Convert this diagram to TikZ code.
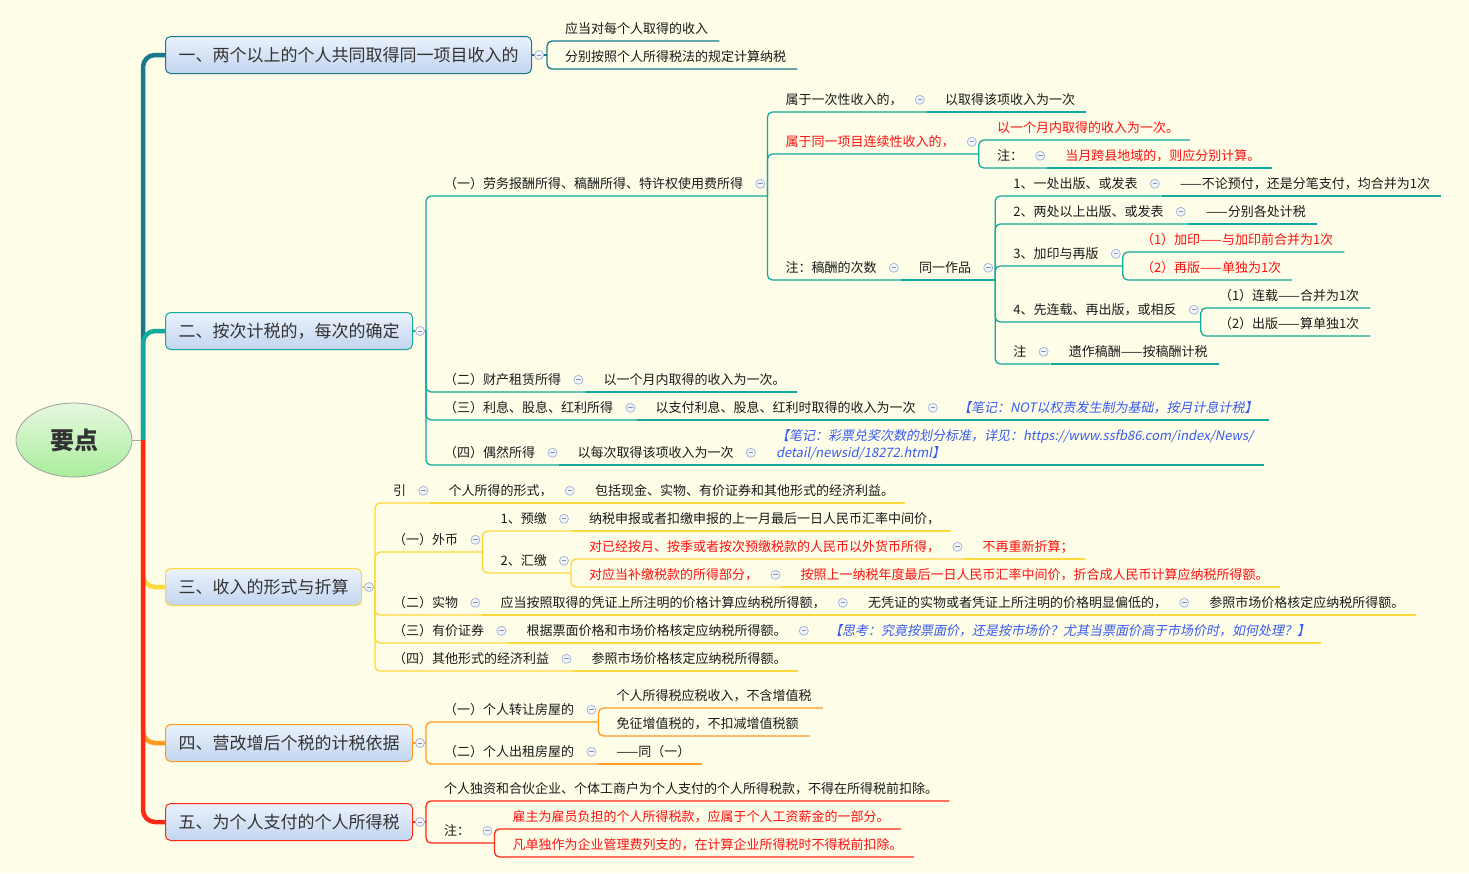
\documentclass[tikz,border=0pt]{standalone}
\usepackage{fontspec}
\setmainfont{Noto Sans CJK SC}
\newfontfamily\notefont{Noto Sans CJK SC}[FakeSlant=0.2]
\usetikzlibrary{shapes.geometric}
\definecolor{Paper}{HTML}{FDFDE8}
\definecolor{Ink}{HTML}{1A1A1A}
\definecolor{BoxInk}{HTML}{333333}
\definecolor{Hot}{HTML}{FF1010}
\definecolor{Note}{HTML}{3A5BEF}
\definecolor{BrOne}{HTML}{17798B}
\definecolor{BrTwo}{HTML}{14A99A}
\definecolor{BrThree}{HTML}{FFD83A}
\definecolor{BrFour}{HTML}{FF9B1E}
\definecolor{BrFive}{HTML}{FF2A14}
\definecolor{FoldEdge}{HTML}{A9B7D8}
\definecolor{FoldFill}{HTML}{F1F4FB}
\definecolor{BoxTop}{HTML}{EBF2FC}
\definecolor{BoxBot}{HTML}{C2D5EF}
\definecolor{RootTop}{HTML}{E6F8DE}
\definecolor{RootBot}{HTML}{A9EE9C}

\tikzset{
  txt/.style={anchor=south west,inner xsep=0pt,inner ysep=4pt,text height=10pt,text depth=3pt,
    font=\fontsize{13}{16}\selectfont,text=Ink,execute at begin node={\hspace*{18pt}}},
  leaf/.style={txt,execute at end node={\hspace*{11pt}}},
  stem/.style={txt,execute at end node={\hspace*{24pt}}},
  hot/.style={text=Hot},
  note/.style={text=Note,font=\notefont\fontsize{13}{16}\selectfont},
  topic/.style={anchor=west,rounded corners=5pt,line width=1pt,top color=BoxTop,bottom color=BoxBot,
    text=BoxInk,font=\fontsize{17}{20}\selectfont,minimum height=37pt,inner xsep=13pt},
  hub/.style={ellipse,draw=gray!75,line width=0.8pt,top color=RootTop,bottom color=RootBot,
    minimum width=116pt,minimum height=74pt,inner sep=0pt,text=BoxInk,
    font=\fontsize{24}{28}\selectfont\bfseries},
  trunk/.style={line width=4.5pt,rounded corners=12pt},
  link/.style={line width=1.3pt,rounded corners=5pt},
  fold/.style={draw=FoldEdge,fill=FoldFill,line width=0.8pt},
  foldbar/.style={draw=FoldEdge!80!black,line width=0.8pt}
}

\begin{document}
\begin{tikzpicture}[x=1pt,y=-1pt]
\fill[Paper] (0,0) rectangle (1469,873);
\useasboundingbox (0,0) rectangle (1469,873);

% root and main topics
\node[hub] (root) at (74,440) {要点};
\coordinate (hubj) at (143,440);
\node[topic,draw=BrOne] (t1) at (165,55) {一、两个以上的个人共同取得同一项目收入的};
\node[topic,draw=BrTwo] (t2) at (165,331) {二、按次计税的，每次的确定};
\node[topic,draw=BrThree] (t3) at (165,587) {三、收入的形式与折算};
\node[topic,draw=BrFour] (t4) at (165,743) {四、营改增后个税的计税依据};
\node[topic,draw=BrFive] (t5) at (165,822) {五、为个人支付的个人所得税};
\coordinate (j1) at ([xshift=15pt]t1.east);
\coordinate (j2) at ([xshift=13pt]t2.east);
\coordinate (j3) at ([xshift=13pt]t3.east);
\coordinate (j4) at ([xshift=13pt]t4.east);
\coordinate (j5) at ([xshift=13pt]t5.east);

% topic one
\node[leaf] (a1) at (j1 |- 0,41) {应当对每个人取得的收入};
\node[leaf] (a2) at (j1 |- 0,69) {分别按照个人所得税法的规定计算纳税};

% topic two
\node[stem] (b1) at (j2 |- 0,196) {（一）劳务报酬所得、稿酬所得、特许权使用费所得};
\node[stem] (b1a) at (b1.south east |- 0,112) {属于一次性收入的，};
\node[leaf] (b1a1) at (b1a.south east) {以取得该项收入为一次};
\node[stem,hot] (b1b) at (b1.south east |- 0,154) {属于同一项目连续性收入的，};
\node[leaf,hot] (b1b1) at (b1b.south east |- 0,140) {以一个月内取得的收入为一次。};
\node[stem] (b1b2) at (b1b.south east |- 0,168) {注：};
\node[leaf,hot] (b1b2a) at (b1b2.south east) {当月跨县地域的，则应分别计算。};
\node[stem] (b1c) at (b1.south east |- 0,280) {注：稿酬的次数};
\node[stem] (b1c1) at (b1c.south east) {同一作品};
\node[stem] (c1) at (b1c1.south east |- 0,196) {1、一处出版、或发表};
\node[leaf] (c1a) at (c1.south east) {——不论预付，还是分笔支付，均合并为1次};
\node[stem] (c2) at (b1c1.south east |- 0,224) {2、两处以上出版、或发表};
\node[leaf] (c2a) at (c2.south east) {——分别各处计税};
\node[stem] (c3) at (b1c1.south east |- 0,266) {3、加印与再版};
\node[leaf,hot] (c3a) at (c3.south east |- 0,252) {（1）加印——与加印前合并为1次};
\node[leaf,hot] (c3b) at (c3.south east |- 0,280) {（2）再版——单独为1次};
\node[stem] (c4) at (b1c1.south east |- 0,322) {4、先连载、再出版，或相反};
\node[leaf] (c4a) at (c4.south east |- 0,308) {（1）连载——合并为1次};
\node[leaf] (c4b) at (c4.south east |- 0,336) {（2）出版——算单独1次};
\node[stem] (c5) at (b1c1.south east |- 0,364) {注};
\node[leaf] (c5a) at (c5.south east) {遗作稿酬——按稿酬计税};
\node[stem] (b2) at (j2 |- 0,392) {（二）财产租赁所得};
\node[leaf] (b2a) at (b2.south east) {以一个月内取得的收入为一次。};
\node[stem] (b3) at (j2 |- 0,420) {（三）利息、股息、红利所得};
\node[stem] (b3a) at (b3.south east) {以支付利息、股息、红利时取得的收入为一次};
\node[leaf,note] (b3b) at (b3a.south east) {【笔记：NOT以权责发生制为基础，按月计息计税】};
\node[stem] (b4) at (j2 |- 0,465) {（四）偶然所得};
\node[stem] (b4a) at (b4.south east) {以每次取得该项收入为一次};
\node[leaf,note] (b4b) at (b4a.south east) {\vbox{\baselineskip=17pt
  \hbox{【笔记：彩票兑奖次数的划分标准，详见：https://www.ssfb86.com/index/News/}
  \hbox{detail/newsid/18272.html】}}};

% topic three
\node[stem] (d0) at (j3 |- 0,503) {引};
\node[stem] (d0a) at (d0.south east) {个人所得的形式，};
\node[leaf] (d0b) at (d0a.south east) {包括现金、实物、有价证券和其他形式的经济利益。};
\node[stem] (d1) at (j3 |- 0,552) {（一）外币};
\node[stem] (d1a) at (d1.south east |- 0,531) {1、预缴};
\node[leaf] (d1a1) at (d1a.south east) {纳税申报或者扣缴申报的上一月最后一日人民币汇率中间价，};
\node[stem] (d1b) at (d1.south east |- 0,573) {2、汇缴};
\node[stem,hot] (d1b1) at (d1b.south east |- 0,559) {对已经按月、按季或者按次预缴税款的人民币以外货币所得，};
\node[leaf,hot] (d1b1a) at (d1b1.south east) {不再重新折算；};
\node[stem,hot] (d1b2) at (d1b.south east |- 0,587) {对应当补缴税款的所得部分，};
\node[leaf,hot] (d1b2a) at (d1b2.south east) {按照上一纳税年度最后一日人民币汇率中间价，折合成人民币计算应纳税所得额。};
\node[stem] (d2) at (j3 |- 0,615) {（二）实物};
\node[stem] (d2a) at (d2.south east) {应当按照取得的凭证上所注明的价格计算应纳税所得额，};
\node[stem] (d2b) at (d2a.south east) {无凭证的实物或者凭证上所注明的价格明显偏低的，};
\node[leaf] (d2c) at (d2b.south east) {参照市场价格核定应纳税所得额。};
\node[stem] (d3) at (j3 |- 0,643) {（三）有价证券};
\node[stem] (d3a) at (d3.south east) {根据票面价格和市场价格核定应纳税所得额。};
\node[leaf,note] (d3b) at (d3a.south east) {【思考：究竟按票面价，还是按市场价？尤其当票面价高于市场价时，如何处理？】};
\node[stem] (d4) at (j3 |- 0,671) {（四）其他形式的经济利益};
\node[leaf] (d4a) at (d4.south east) {参照市场价格核定应纳税所得额。};

% topic four
\node[stem] (e1) at (j4 |- 0,722) {（一）个人转让房屋的};
\node[leaf] (e1a) at (e1.south east |- 0,708) {个人所得税应税收入，不含增值税};
\node[leaf] (e1b) at (e1.south east |- 0,736) {免征增值税的，不扣减增值税额};
\node[stem] (e2) at (j4 |- 0,764) {（二）个人出租房屋的};
\node[leaf] (e2a) at (e2.south east) {——同（一）};

% topic five
\node[leaf] (f1) at (j5 |- 0,801) {个人独资和合伙企业、个体工商户为个人支付的个人所得税款，不得在所得税前扣除。};
\node[stem] (f2) at (j5 |- 0,843) {注：};
\node[leaf,hot] (f2a) at (f2.south east |- 0,829) {雇主为雇员负担的个人所得税款，应属于个人工资薪金的一部分。};
\node[leaf,hot] (f2b) at (f2.south east |- 0,857) {凡单独作为企业管理费列支的，在计算企业所得税时不得税前扣除。};

% trunk
\draw[gray!70,line width=1pt] (root.east) -- (hubj);
\draw[trunk,BrOne] (hubj) |- (t1.west);
\draw[trunk,BrTwo] (hubj) |- (t2.west);
\draw[trunk,BrThree] (hubj) |- (t3.west);
\draw[trunk,BrFour] (hubj) |- (t4.west);
\draw[trunk,BrFive] (hubj) |- (t5.west);

% branch one
\draw[link,BrOne] (t1.east) -- (j1);
\draw[link,BrOne] (j1) |- (a1.south east);
\draw[link,BrOne] (j1) |- (a2.south east);

% branch two
\draw[link,BrTwo] (t2.east) -- (j2);
\foreach \nd in {b1,b2,b3,b4} \draw[link,BrTwo] (j2) |- (\nd.south east);
\foreach \nd in {b1a,b1b,b1c} \draw[link,BrTwo] (b1.south east) |- (\nd.south east);
\draw[link,BrTwo] (b1a.south east) -- (b1a1.south east);
\draw[link,BrTwo] (b1b.south east) |- (b1b1.south east);
\draw[link,BrTwo] (b1b.south east) |- (b1b2.south east);
\draw[link,BrTwo] (b1b2.south east) -- (b1b2a.south east);
\draw[link,BrTwo] (b1c.south east) -- (b1c1.south east);
\foreach \nd in {c1,c2,c3,c4,c5} \draw[link,BrTwo] (b1c1.south east) |- (\nd.south east);
\draw[link,BrTwo] (c1.south east) -- (c1a.south east);
\draw[link,BrTwo] (c2.south east) -- (c2a.south east);
\draw[link,BrTwo] (c3.south east) |- (c3a.south east);
\draw[link,BrTwo] (c3.south east) |- (c3b.south east);
\draw[link,BrTwo] (c4.south east) |- (c4a.south east);
\draw[link,BrTwo] (c4.south east) |- (c4b.south east);
\draw[link,BrTwo] (c5.south east) -- (c5a.south east);
\draw[link,BrTwo] (b2.south east) -- (b2a.south east);
\draw[link,BrTwo] (b3.south east) -- (b3a.south east);
\draw[link,BrTwo] (b3a.south east) -- (b3b.south east);
\draw[link,BrTwo] (b4.south east) -- (b4a.south east);
\draw[link,BrTwo] (b4a.south east) -- (b4b.south east);

% branch three
\draw[link,BrThree] (t3.east) -- (j3);
\foreach \nd in {d0,d1,d2,d3,d4} \draw[link,BrThree] (j3) |- (\nd.south east);
\draw[link,BrThree] (d0.south east) -- (d0a.south east);
\draw[link,BrThree] (d0a.south east) -- (d0b.south east);
\draw[link,BrThree] (d1.south east) |- (d1a.south east);
\draw[link,BrThree] (d1.south east) |- (d1b.south east);
\draw[link,BrThree] (d1a.south east) -- (d1a1.south east);
\draw[link,BrThree] (d1b.south east) |- (d1b1.south east);
\draw[link,BrThree] (d1b.south east) |- (d1b2.south east);
\draw[link,BrThree] (d1b1.south east) -- (d1b1a.south east);
\draw[link,BrThree] (d1b2.south east) -- (d1b2a.south east);
\draw[link,BrThree] (d2.south east) -- (d2a.south east);
\draw[link,BrThree] (d2a.south east) -- (d2b.south east);
\draw[link,BrThree] (d2b.south east) -- (d2c.south east);
\draw[link,BrThree] (d3.south east) -- (d3a.south east);
\draw[link,BrThree] (d3a.south east) -- (d3b.south east);
\draw[link,BrThree] (d4.south east) -- (d4a.south east);

% branch four
\draw[link,BrFour] (t4.east) -- (j4);
\draw[link,BrFour] (j4) |- (e1.south east);
\draw[link,BrFour] (j4) |- (e2.south east);
\draw[link,BrFour] (e1.south east) |- (e1a.south east);
\draw[link,BrFour] (e1.south east) |- (e1b.south east);
\draw[link,BrFour] (e2.south east) -- (e2a.south east);

% branch five
\draw[link,BrFive] (t5.east) -- (j5);
\draw[link,BrFive] (j5) |- (f1.south east);
\draw[link,BrFive] (j5) |- (f2.south east);
\draw[link,BrFive] (f2.south east) |- (f2a.south east);
\draw[link,BrFive] (f2.south east) |- (f2b.south east);

% fold marks
\foreach \nd in {t1,t2,t3,t4,t5} {
  \draw[fold] ([xshift=7pt]\nd.east) circle (4.5pt);
  \draw[foldbar] ([xshift=4.7pt]\nd.east) -- ([xshift=9.3pt]\nd.east);
}
\foreach \nd in {b1,b1a,b1b,b1b2,b1c,b1c1,c1,c2,c3,c4,c5,b2,b3,b3a,b4,b4a,
                 d0,d0a,d1,d1a,d1b,d1b1,d1b2,d2,d2a,d2b,d3,d3a,d4,e1,e2,f2} {
  \draw[fold] ([xshift=-7pt,yshift=1.5pt]\nd.east) circle (4.5pt);
  \draw[foldbar] ([xshift=-9.3pt,yshift=1.5pt]\nd.east) -- ([xshift=-4.7pt,yshift=1.5pt]\nd.east);
}
\end{tikzpicture}
\end{document}
